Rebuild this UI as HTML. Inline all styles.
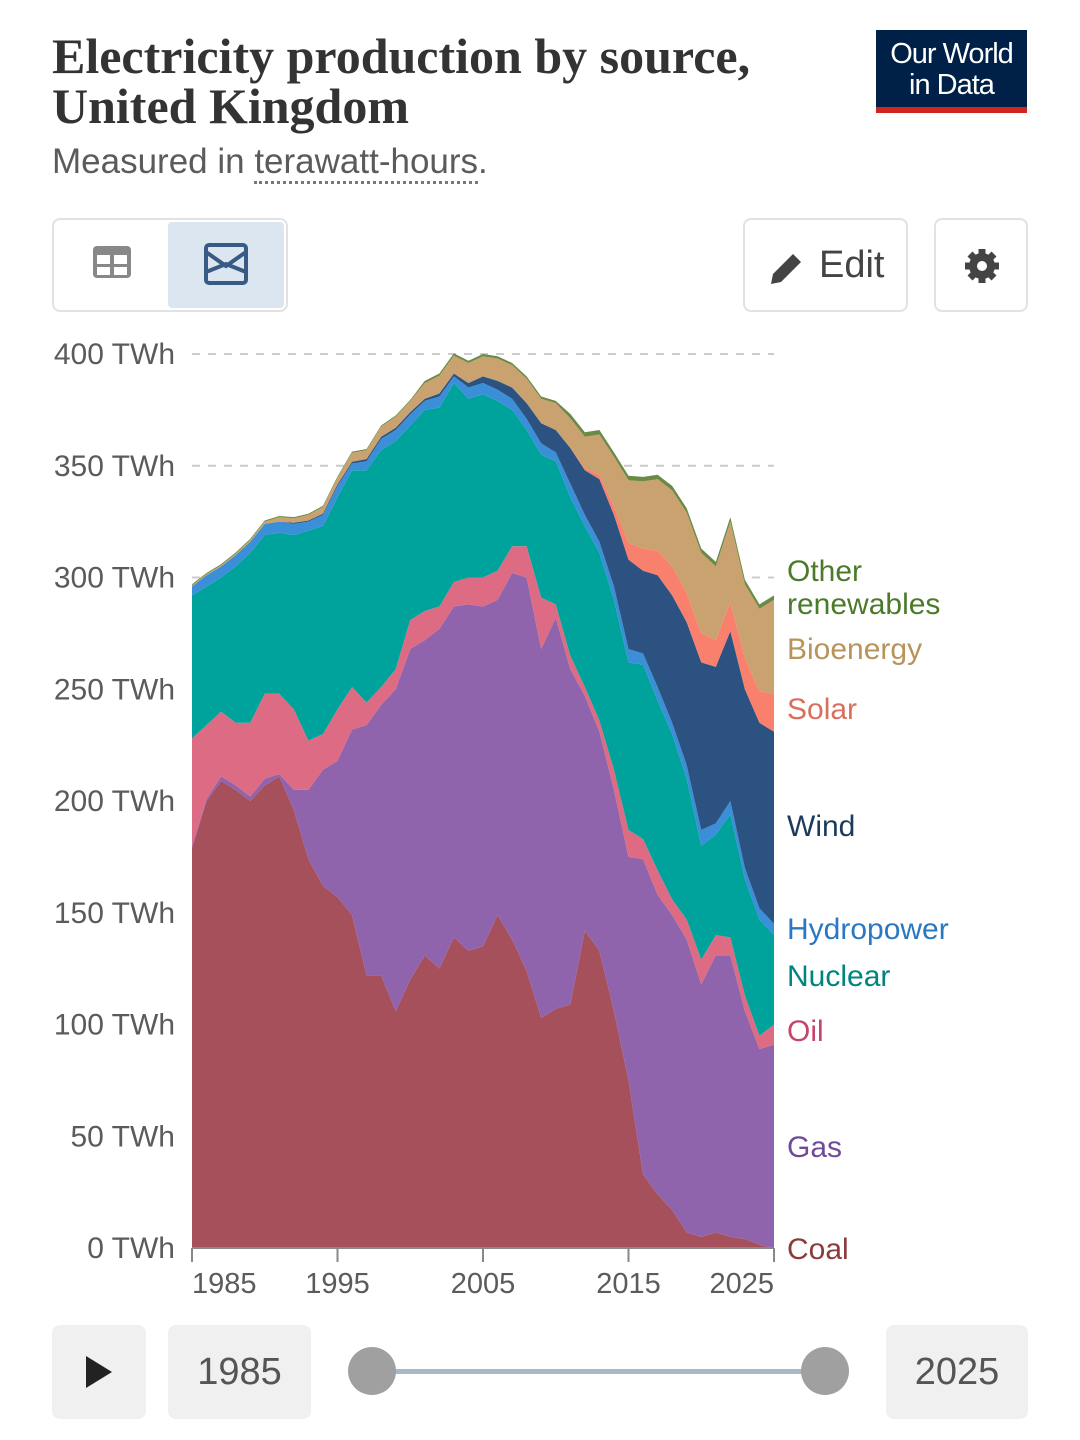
<!DOCTYPE html>
<html><head><meta charset="utf-8"><style>
body{margin:0;width:1080px;height:1440px;background:#fff;font-family:"Liberation Sans",sans-serif;overflow:hidden;position:relative}
.abs{position:absolute}
.btn{position:absolute;border:2px solid #e2e2e2;border-radius:8px;box-sizing:border-box;background:#fff}
.gbox{position:absolute;background:#f0f0f0;border-radius:8px;font-size:38px;color:#555;display:flex;align-items:center;justify-content:center}
</style></head><body>
<div class="abs" style="left:52px;top:31px;font-family:'Liberation Serif',serif;font-weight:bold;font-size:50px;line-height:50px;color:#333">Electricity production by source,<br>United Kingdom</div>
<div class="abs" style="left:52px;top:142px;font-size:35px;color:#5b5b5b">Measured in <span style="border-bottom:3px dotted #777">terawatt-hours</span>.</div>
<div class="abs" style="left:876px;top:30px;width:151px;height:83px;background:#002147;color:#fff;font-size:29px;line-height:31px;text-align:center;box-sizing:border-box;padding-top:9px;border-bottom:6px solid #ce261e;letter-spacing:-1px">Our World<br>in Data</div>
<div class="btn" style="left:52px;top:218px;width:236px;height:94px"></div>
<div class="abs" style="left:92px;top:245px;width:40px;height:34px;">
<svg width="40" height="34"><rect x="1" y="1" width="38" height="32" rx="4" fill="#888"/><rect x="5" y="10" width="13" height="9" fill="#fff"/><rect x="22" y="10" width="13" height="9" fill="#fff"/><rect x="5" y="22" width="13" height="8" fill="#fff"/><rect x="22" y="22" width="13" height="8" fill="#fff"/></svg></div>
<div class="abs" style="left:168px;top:222px;width:116px;height:86px;background:#dce6f1;border-radius:4px">
<svg width="116" height="86"><rect x="38" y="23" width="40" height="38" rx="3" fill="none" stroke="#385b85" stroke-width="4"/><path d="M38 30 L58 44 L78 30 M38 50 L58 42 L78 50" fill="none" stroke="#385b85" stroke-width="4"/></svg></div>
<div class="btn" style="left:743px;top:218px;width:165px;height:94px;font-size:38px;color:#444;padding:24px 0 0 74px">Edit
<svg class="abs" style="left:22px;top:28px" width="40" height="40"><path d="M4 36 L6 26 L26 6 L34 14 L14 34 Z" fill="#444"/></svg></div>
<div class="btn" style="left:934px;top:218px;width:94px;height:94px">
<svg class="abs" style="left:28px;top:28px" width="36" height="36"><circle cx="18" cy="18" r="13" fill="#444"/><g stroke="#444" stroke-width="7"><line x1="18" y1="1" x2="18" y2="35"/><line x1="1" y1="18" x2="35" y2="18"/><line x1="6" y1="6" x2="30" y2="30"/><line x1="30" y1="6" x2="6" y2="30"/></g><circle cx="18" cy="18" r="5" fill="#fff"/></svg></div>

<svg class="abs" style="left:0;top:0" width="1080" height="1440" id="chart"></svg>

<div class="gbox" style="left:52px;top:1325px;width:94px;height:94px"><svg width="30" height="34"><path d="M2 1 L28 17 L2 33 Z" fill="#222"/></svg></div>
<div class="gbox" style="left:168px;top:1325px;width:143px;height:94px">1985</div>
<div class="abs" style="left:372px;top:1369px;width:453px;height:5px;background:#a8b8c8"></div>
<div class="abs" style="left:348px;top:1347px;width:48px;height:48px;border-radius:50%;background:#a0a0a0"></div>
<div class="abs" style="left:801px;top:1347px;width:48px;height:48px;border-radius:50%;background:#a0a0a0"></div>
<div class="gbox" style="left:886px;top:1325px;width:142px;height:94px">2025</div>

<script>
const years=[];for(let y=1985;y<=2025;y++)years.push(y);
const coal=[179,200,209,205,200,207,211,196,174,162,157,149,122,122,106,120,131,125,139,133,135,149,138,124,103,107,109,142,133,106,75,33,24,17,7,5,7,5,4,1.5,0];
const gas=[1,1,2,2,2,3,1,9,31,52,61,83,112,121,144,148,141,152,148,155,152,141,164,176,165,175,150,105,98,99,100,141,134,132,131,113,124,126,102,87.5,91];
const oil=[48,33,29,28,33,38,36,36,22,16,23,19,10,8,9,13,13,10,11,12,13,13,12,14,23,6,6,4,5,9,12,9,11,7,9,11,9,8,7,6,9];
const nuclear=[64,62,60,70,76,71,72,78,94,93,95,97,104,106,102,87,90,89,89,80,82,76,61,52,64,64,71,72,75,76,75,78,76,74,63,51,45,55,52,52,40];
const hydro=[4,5,5,5,5,5,5,5,4,5,5,3,4,5,5,5,4,5,3,5,5,5,5,5,5,4,6,5,5,6,6,5,6,5,6,7,5,6,5,5,5];
const wind=[0,0,0,0,0,0,0,0.5,0.5,0.6,0.7,0.8,1,1,1,1,1,1.3,1.3,2,3,4,5,7,9,10,16,20,28,32,40,37,50,57,64,75,70,76,80,83,86];
const solar=[0,0,0,0,0,0,0,0,0,0,0,0,0,0,0,0,0,0,0,0,0,0,0,0,0,0,0.2,1,2,4,7.5,10,11,13,13,13,12,13,14,14,17];
const bio=[0.5,0.5,0.5,0.7,0.8,1,2,2,2.5,3,3,4,4,4.5,5,5,7,8,8,9,9,10,10,11,11,12,13,14,18,22,28,30,32,34,36,36,33,36,33,37,42];
const other=[0.5,0.5,0.5,0.5,0.5,0.5,0.5,0.5,0.5,0.5,0.5,0.5,0.5,0.5,0.5,0.5,1,1,1,1,1,1,1,1,1,1,2,2,2,2,2,2,2,2,2,2,2,2,2,2,2];
const yTicks=[0,50,100,150,200,250,300,350,400];
const xTicks=[1985,1995,2005,2015,2025];
const series=[["coal",coal,"#a6505c"],["gas",gas,"#9063ad"],["oil",oil,"#dd6b84"],["nuclear",nuclear,"#00a39b"],["hydropower",hydro,"#3a8fd8"],["wind",wind,"#2b5280"],["solar",solar,"#f8806d"],["bioenergy",bio,"#c9a26f"],["other-renewables",other,"#6b8a45"]];
const x=v=>192+(v-1985)*(774-192)/40;
const y=v=>1248-v*(1248-354)/400;
const NS="http://www.w3.org/2000/svg";
const svg=document.getElementById('chart');
function mk(t,a){const e=document.createElementNS(NS,t);for(const k in a)e.setAttribute(k,a[k]);svg.appendChild(e);return e;}
yTicks.forEach(t=>{
 const l=mk('line',{x1:192,x2:774,y1:y(t),y2:y(t),stroke:'#ccc','stroke-width':2,'stroke-dasharray':'8,8'});
 
 
 const tx=mk('text',{x:175,y:y(t)+10,'text-anchor':'end','font-size':30,fill:'#5b5b5b','font-family':'Liberation Sans, sans-serif'});
 tx.textContent=t+' TWh';
 
 
});
let base=years.map(()=>0);
series.forEach(([name,vals,col])=>{
 const top=base.map((b,i)=>b+vals[i]);
 let d='M'+years.map((yr,i)=>x(yr)+','+y(top[i])).join(' L');
 d+=' L'+years.slice().reverse().map((yr,j)=>{const i=years.length-1-j;return x(yr)+','+y(base[i]);}).join(' L')+'Z';
 const p=mk('path',{d:d,fill:col});
 
 
 base=top;
});
const ax=mk('line',{x1:192,x2:774,y1:1248,y2:1248,stroke:'#888','stroke-width':2});


xTicks.forEach((t,i)=>{
 const tk=mk('line',{x1:x(t),x2:x(t),y1:1248,y2:1262,stroke:'#888','stroke-width':2});
 
 
 const anchor=i===0?'start':(i===xTicks.length-1?'end':'middle');
 const tx=mk('text',{x:x(t),y:1293,'text-anchor':anchor,'font-size':29,fill:'#5b5b5b','font-family':'Liberation Sans, sans-serif'});
 tx.textContent=t;
 
 
});
const labels=[["Other",581,"#4c7a2c"],["renewables",614,"#4c7a2c"],["Bioenergy",659,"#b8935a"],["Solar",719,"#d9705e"],["Wind",836,"#1c3a5c"],["Hydropower",939,"#2b78c2"],["Nuclear",986,"#00847e"],["Oil",1041,"#c5456a"],["Gas",1157,"#6f4a96"],["Coal",1259,"#8c3a3a"]];
labels.forEach(([t,yy,c])=>{
 const tx=mk('text',{x:787,y:yy,'font-size':30,fill:c,'font-family':'Liberation Sans, sans-serif'});
 tx.textContent=t;
 
 
});
</script>
</body></html>
